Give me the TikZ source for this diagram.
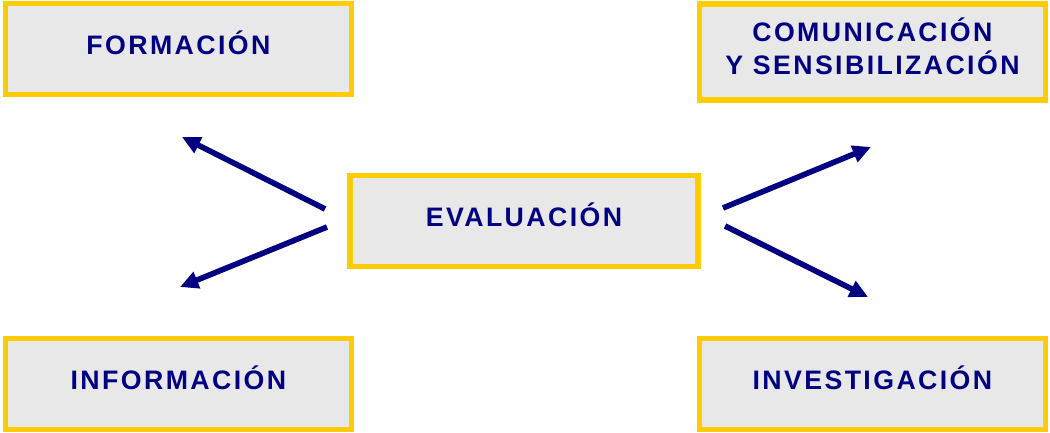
\documentclass[tikz,border=0pt]{standalone}
\usepackage{fontspec}
\setmainfont{Liberation Sans}[LetterSpace=9]
\usetikzlibrary{arrows.meta}
\definecolor{boxgold}{HTML}{FFCC00}
\definecolor{boxgrey}{HTML}{E8E8E8}
\definecolor{navytext}{HTML}{000080}
\begin{document}
\begin{tikzpicture}[
  box/.style={draw=boxgold, line width=3.6pt, fill=boxgrey, align=center, text=navytext,
    font=\fontsize{19}{23.7}\selectfont\bfseries, text depth=0.3cm,
    minimum width=8.65cm, minimum height=2.275cm},
  arr/.style={-{Triangle[length=13pt, width=12pt]}, line width=4pt, draw=navytext}
]
\useasboundingbox (0,0) rectangle (26.25,10.8);
\node[box] (formacion) at (4.46,9.575) {FORMACIÓN};
\node[box, minimum height=2.4cm] (comunicacion) at (21.81,9.5) {COMUNICACIÓN\\Y SENSIBILIZACIÓN};
\node[box, minimum width=8.7cm] (evaluacion) at (13.1,5.275) {EVALUACIÓN};
\node[box] (informacion) at (4.46,1.2) {INFORMACIÓN};
\node[box] (investigacion) at (21.81,1.2) {INVESTIGACIÓN};

% arrow ends, off the boxes
\coordinate (evalnw) at (8.125,5.575);
\coordinate (evalsw) at (8.175,5.125);
\coordinate (evalne) at (18.075,5.6);
\coordinate (evalse) at (18.125,5.15);
\coordinate (toform) at (4.55,7.375);
\coordinate (toinfo) at (4.5,3.625);
\coordinate (tocomu) at (21.775,7.125);
\coordinate (toinve) at (21.7,3.375);

\draw[arr] (evalnw) -- (toform);
\draw[arr] (evalsw) -- (toinfo);
\draw[arr] (evalne) -- (tocomu);
\draw[arr] (evalse) -- (toinve);
\end{tikzpicture}
\end{document}
